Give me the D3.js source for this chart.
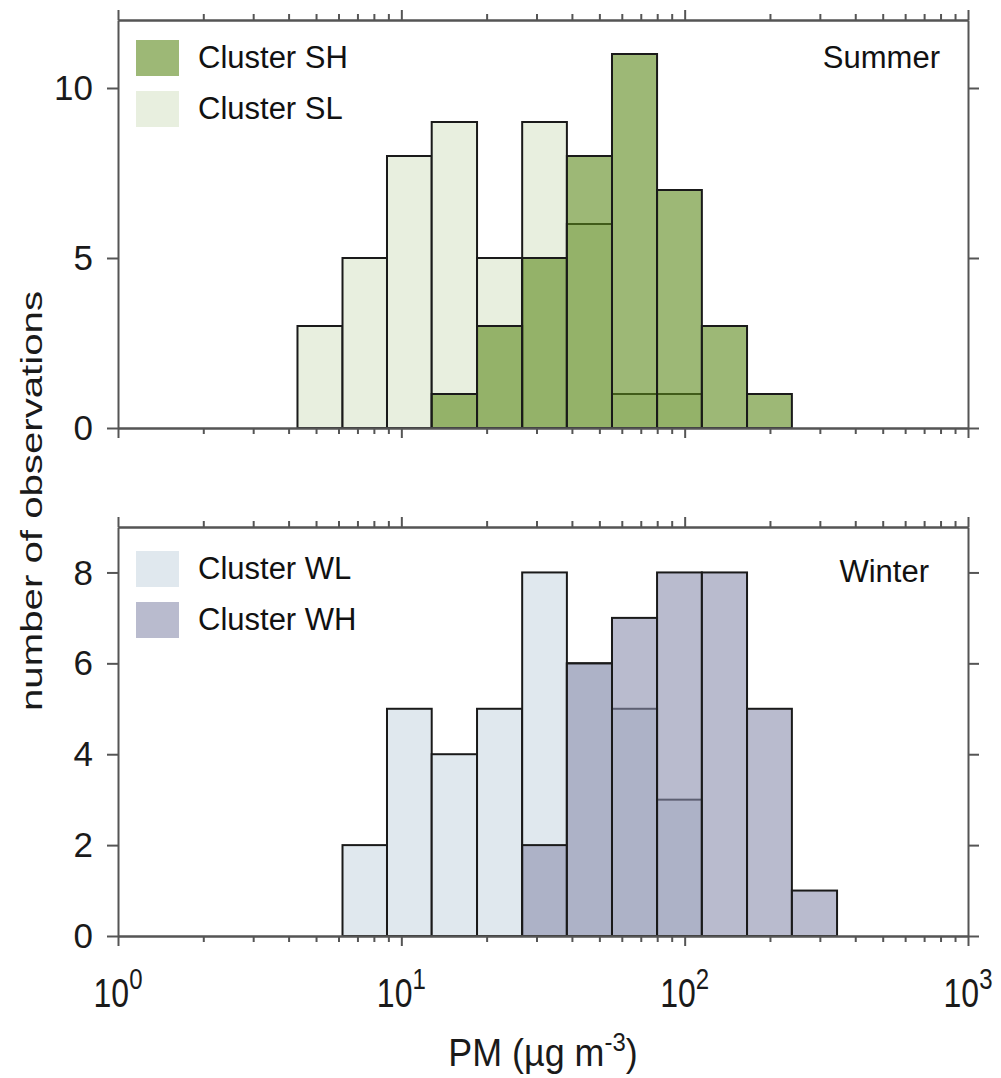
<!DOCTYPE html>
<html>
<head>
<meta charset="utf-8">
<script src="https://cdn.jsdelivr.net/npm/d3@7"></script>
<style>
  body { margin: 0; background: #fff; }
  svg { display: block; font-family: 'Liberation Sans', Arial, sans-serif; }
</style>
</head>
<body>
<div id="chart"></div>
<script>
// bin edges in ug m-3 (equal widths on the log axis)
var binEdges = [4.3, 6.2, 8.9, 12.8, 18.5, 26.7, 38.4, 55.4, 79.9, 115, 166, 239, 345];

var summerLow  = [3, 5, 8, 9, 5, 9, 6, 1, 1, 0, 0, 0];
var summerHigh = [0, 0, 0, 1, 3, 5, 8, 11, 7, 3, 1, 0];
var winterLow  = [0, 2, 5, 4, 5, 8, 6, 5, 3, 0, 0, 0];
var winterHigh = [0, 0, 0, 0, 0, 2, 6, 7, 8, 8, 5, 1];

var xDecades = [1, 10, 100, 1000];
var xExponents = ['0', '1', '2', '3'];
var summerTicks = [0, 5, 10];
var winterTicks = [0, 2, 4, 6, 8];

var width = 1001, height = 1078;
var left = 118, right = 968;
var axisColor = '#555';
var barStroke = '#1a1a1a';

var panels = [
  { season: 'Summer', top: 20, bottom: 428, yMax: 12, ticks: summerTicks,
    back:  { label: 'Cluster SL', counts: summerLow,  fill: '#e8efdf', opacity: 1 },
    front: { label: 'Cluster SH', counts: summerHigh, fill: '#5c891b', opacity: 0.6 },
    legendOrder: ['front', 'back'], legendTop: 40, seasonX: 940, seasonY: 68 },
  { season: 'Winter', top: 527, bottom: 936, yMax: 9, ticks: winterTicks,
    back:  { label: 'Cluster WL', counts: winterLow,  fill: '#e0e8ee', opacity: 1 },
    front: { label: 'Cluster WH', counts: winterHigh, fill: '#8a8ead', opacity: 0.6 },
    legendOrder: ['back', 'front'], legendTop: 551, seasonX: 929, seasonY: 582 }
];

var minorTicks = [];
[1, 10, 100].forEach(function(d) {
  for (var k = 2; k <= 9; k++) minorTicks.push(d * k);
});

var svg = d3.select('#chart').append('svg')
            .attr('width', width)
            .attr('height', height);

var x = d3.scaleLog().domain([1, 1000]).range([left, right]);

function styleAxis(g) {
  g.attr('font-family', null).attr('font-size', null);
  g.selectAll('path.domain').attr('stroke', axisColor).attr('stroke-width', 2);
  g.selectAll('.tick line').attr('stroke', axisColor).attr('stroke-width', 2);
}

function toBins(counts) {
  return counts.map(function(c, i) {
    return { x0: binEdges[i], x1: binEdges[i + 1], n: c };
  }).filter(function(d) { return d.n > 0; });
}

function drawBars(g, y, series, cls) {
  g.selectAll('rect.' + cls)
   .data(toBins(series.counts))
   .enter()
   .append('rect')
   .attr('class', cls)
   .attr('x', function(d) { return x(d.x0); })
   .attr('width', function(d) { return x(d.x1) - x(d.x0); })
   .attr('y', function(d) { return y(d.n); })
   .attr('height', function(d) { return y(0) - y(d.n); })
   .attr('fill', series.fill)
   .attr('fill-opacity', series.opacity)
   .attr('stroke', barStroke)
   .attr('stroke-width', 2);
}

function drawFrame(g, y, p) {
  // x axes, bottom and top, major and minor ticks
  g.append('g').attr('transform', 'translate(0,' + p.bottom + ')')
   .call(d3.axisBottom(x).tickValues(minorTicks).tickSize(6).tickSizeOuter(0).tickFormat(''))
   .call(styleAxis);
  g.append('g').attr('transform', 'translate(0,' + p.bottom + ')')
   .call(d3.axisBottom(x).tickValues(xDecades).tickSize(10).tickSizeOuter(0).tickFormat(''))
   .call(styleAxis);
  g.append('g').attr('transform', 'translate(0,' + p.top + ')')
   .call(d3.axisTop(x).tickValues(minorTicks).tickSize(6).tickSizeOuter(0).tickFormat(''))
   .call(styleAxis);
  g.append('g').attr('transform', 'translate(0,' + p.top + ')')
   .call(d3.axisTop(x).tickValues(xDecades).tickSize(10).tickSizeOuter(0).tickFormat(''))
   .call(styleAxis);

  var yl = g.append('g').attr('transform', 'translate(' + left + ',0)')
            .call(d3.axisLeft(y).tickValues(p.ticks).tickSize(11).tickSizeOuter(0)
                    .tickPadding(14).tickFormat(d3.format('d')))
            .call(styleAxis);
  yl.selectAll('.tick text')
    .attr('font-size', 35)
    .attr('fill', '#1a1a1a')
    .attr('dy', '0.33em');

  g.append('g').attr('transform', 'translate(' + right + ',0)')
   .call(d3.axisRight(y).tickValues(p.ticks).tickSize(11).tickSizeOuter(0).tickFormat(''))
   .call(styleAxis);
}

function drawLegend(g, p) {
  p.legendOrder.forEach(function(key, i) {
    var s = p[key];
    var top = p.legendTop + i * 51;
    g.append('rect')
     .attr('x', 136).attr('y', top)
     .attr('width', 43).attr('height', 36)
     .attr('fill', s.fill)
     .attr('fill-opacity', s.opacity);
    g.append('text')
     .attr('x', 198).attr('y', top + 28)
     .attr('font-size', 31)
     .attr('fill', '#111')
     .text(s.label);
  });

  g.append('text')
   .attr('x', p.seasonX).attr('y', p.seasonY)
   .attr('text-anchor', 'end')
   .attr('font-size', 31)
   .attr('fill', '#111')
   .text(p.season);
}

panels.forEach(function(p) {
  var y = d3.scaleLinear().domain([0, p.yMax]).range([p.bottom, p.top]);
  var g = svg.append('g').attr('class', 'panel-' + p.season);

  drawBars(g, y, p.back, 'back');
  drawBars(g, y, p.front, 'front');
  drawFrame(g, y, p);
  drawLegend(g, p);
});

// x tick labels under the lower panel, 10^n
var xLabels = svg.append('g').attr('class', 'xlabels');
xDecades.forEach(function(d, i) {
  var t = xLabels.append('g')
                 .attr('transform', 'translate(' + x(d) + ',1007) scale(0.8,1)')
                 .append('text')
                 .attr('text-anchor', 'middle')
                 .attr('font-size', 40)
                 .attr('fill', '#1a1a1a');
  t.append('tspan').text('10');
  t.append('tspan').attr('font-size', 30).attr('dy', -18).text(xExponents[i]);
});

// axis titles
var xt = svg.append('g')
            .attr('transform', 'translate(' + ((left + right) / 2) + ',1066) scale(0.92,1)')
            .append('text')
            .attr('text-anchor', 'middle')
            .attr('font-size', 39)
            .attr('fill', '#1a1a1a');
xt.append('tspan').text('PM (\u00b5g m');
xt.append('tspan').attr('font-size', 26).attr('dy', -15).text('-3');
xt.append('tspan').attr('dy', 15).text(')');

svg.append('text')
   .attr('transform', 'translate(42,501) rotate(-90)')
   .attr('text-anchor', 'middle')
   .attr('font-size', 30)
   .attr('textLength', 420)
   .attr('lengthAdjust', 'spacingAndGlyphs')
   .attr('fill', '#1a1a1a')
   .text('number of observations');
</script>
</body>
</html>
